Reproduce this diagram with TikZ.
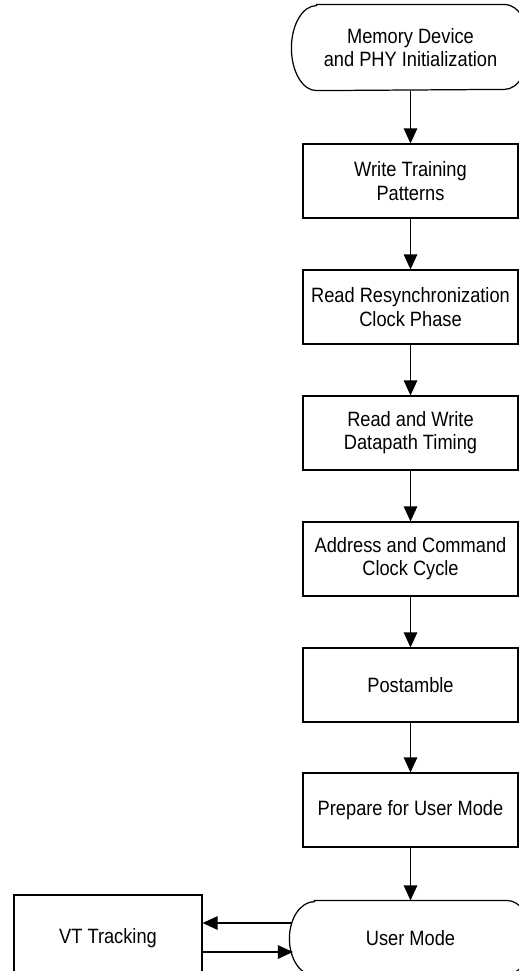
\documentclass[tikz,border=0pt]{standalone}
\usepackage{fontspec}
\setmainfont{Liberation Sans}[FakeStretch=0.88]
\usetikzlibrary{arrows.meta}
\begin{document}
\begin{tikzpicture}[x=0.02cm, y=-0.02cm, line width=.7pt,
  every node/.style={font=\fontsize{11.8}{13.2}\selectfont, align=center},
  stepbox/.style={draw, minimum width=4.3cm, minimum height=1.48cm, inner xsep=1pt},
  term/.style={minimum height=#1, inner sep=0pt},
  arrow/.style={-{Triangle[length=.3cm, width=.27cm]}}]
  \useasboundingbox (0,0) rectangle (519,971);
  \clip (0,0) rectangle (519,971);

  \node[term=1.7cm, minimum width=4.74cm] (init) at (410.5,47.5) {Memory Device\\and PHY Initialization};
  \node[stepbox] (b1) at (410.5,181) {Write Training\\Patterns};
  \node[stepbox] (b2) at (410.5,307) {Read Resynchronization\\Clock Phase};
  \node[stepbox] (b3) at (410.5,433) {Read and Write\\Datapath Timing};
  \node[stepbox] (b4) at (410.5,559) {Address and Command\\Clock Cycle};
  \node[stepbox] (b5) at (410.5,685) {Postamble};
  \node[stepbox] (b6) at (410.5,810) {Prepare for User Mode};
  \node[term=1.48cm, minimum width=4.82cm] (user) at (410.5,938) {User Mode};
  \node[draw, minimum width=3.76cm, minimum height=1.72cm] (vt) at (108,938) {VT Tracking};

  % terminal outlines with flat elliptic ends
  \foreach \t/\r in {init/.85cm, user/.74cm}
    \draw ([xshift=.5cm]\t.north west) -- ([xshift=-.5cm]\t.north east)
      arc[start angle=90, end angle=-90, x radius=.5cm, y radius=\r]
      -- ([xshift=.5cm]\t.south west)
      arc[start angle=270, end angle=90, x radius=.5cm, y radius=\r] -- cycle;

  \draw[arrow] (init.south) -- (b1.north);
  \foreach \a/\b in {b1/b2, b2/b3, b3/b4, b4/b5, b5/b6}
    \draw[arrow] (\a.south) -- (\b.north);
  \draw[arrow] (b6.south) -- (user.north);

  \draw[arrow] ([xshift=.06cm, yshift=.3cm]user.west) -- ([yshift=.3cm]vt.east);
  \draw[arrow] ([yshift=-.28cm]vt.east) -- ([xshift=.07cm, yshift=-.28cm]user.west);
\end{tikzpicture}
\end{document}
